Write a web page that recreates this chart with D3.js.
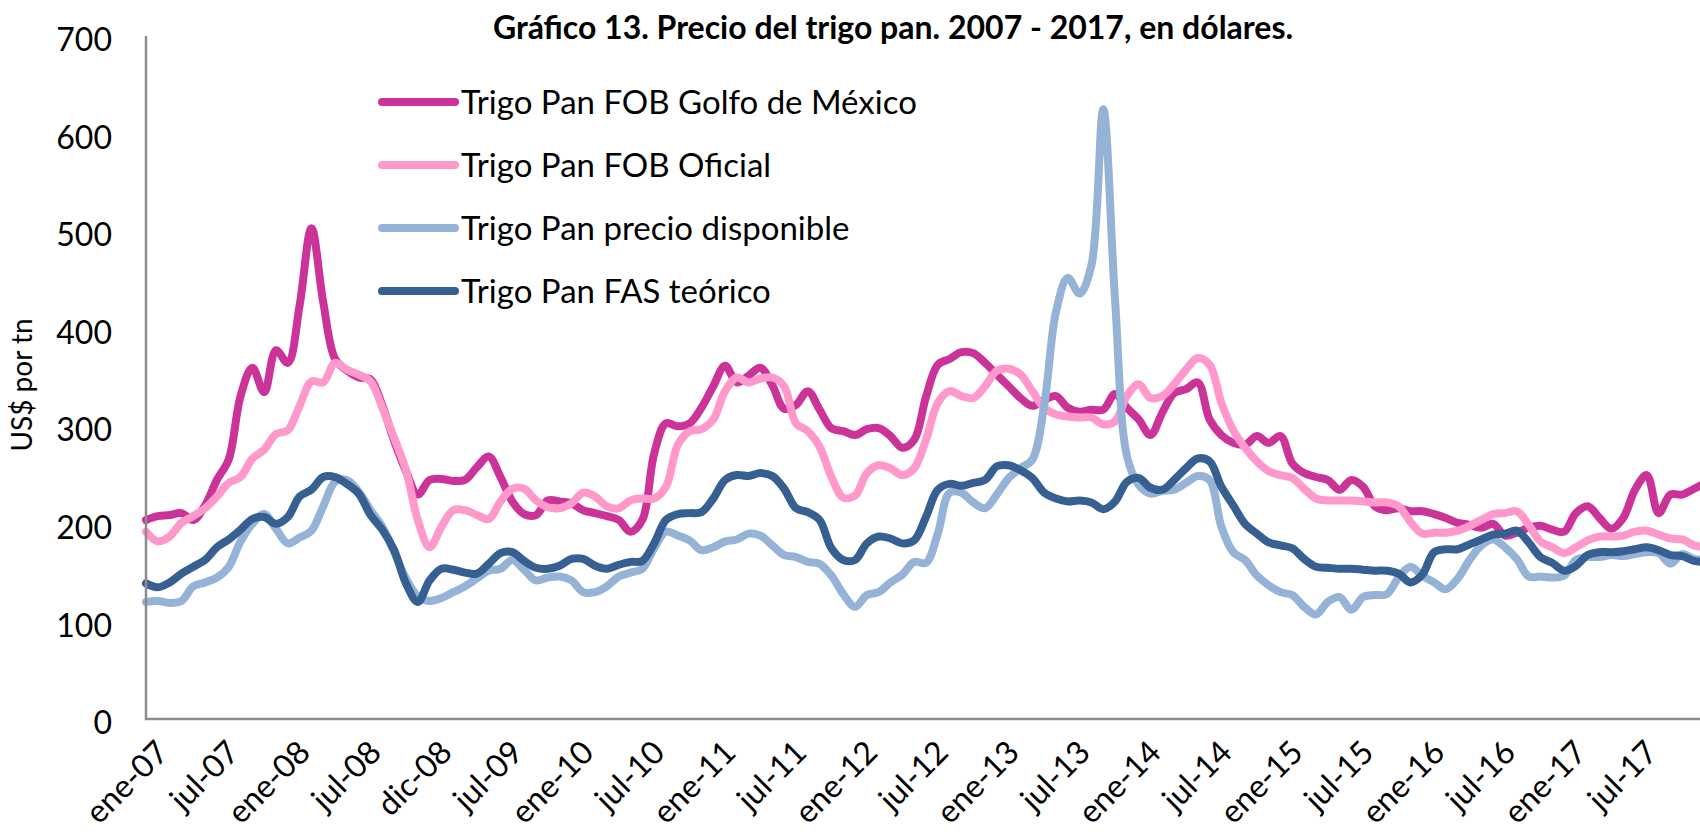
<!DOCTYPE html>
<html>
<head>
<meta charset="utf-8">
<script src="https://cdn.jsdelivr.net/npm/d3@7"></script>
<style>
body { margin: 0; background: #fff; }
svg { display: block; font-family: Lato, 'Open Sans', sans-serif; }
</style>
</head>
<body>
<script>
const W = 1700, H = 837;

const seriesNames = ['Trigo Pan FOB Golfo de México', 'Trigo Pan FOB Oficial',
                     'Trigo Pan precio disponible', 'Trigo Pan FAS teórico'];
const seriesColors = ['#cc3399', '#ff99cc', '#95b3d7', '#376092'];

// one tick label every 6 months
const tickLabels = ['ene-07', 'jul-07', 'ene-08', 'jul-08', 'dic-08', 'jul-09', 'ene-10', 'jul-10',
                    'ene-11', 'jul-11', 'ene-12', 'jul-12', 'ene-13', 'jul-13', 'ene-14', 'jul-14',
                    'ene-15', 'jul-15', 'ene-16', 'jul-16', 'ene-17', 'jul-17'];
const yTicks = [0, 100, 200, 300, 400, 500, 600, 700];

// monthly values, US$ per tn
const fobGolfo = [
  204, 208, 209, 211, 204, 219, 245, 266, 331, 360,
  335, 378, 365, 424, 503, 427, 369, 357, 350, 348,
  321, 285, 254, 230, 245, 246, 244, 245, 258, 269,
  248, 223, 210, 209, 224, 223, 221, 214, 211, 208,
  204, 192, 204, 272, 303, 300, 303, 319, 341, 362,
  345, 352, 360, 342, 318, 322, 336, 317, 298, 295,
  291, 297, 298, 290, 278, 286, 330, 363, 369, 376,
  375, 365, 353, 341, 329, 321, 327, 331, 319, 315,
  317, 317, 333, 319, 307, 291, 314, 334, 338, 345,
  307, 291, 283, 281, 290, 283, 290, 262, 252, 248,
  245, 235, 245, 238, 218, 214, 216, 213, 213, 210,
  206, 201, 199, 196, 200, 188, 191, 196, 198, 194,
  192, 211, 218, 206, 195, 206, 235, 250, 211, 230,
  230, 236, 242];
const fobOficial = [
  192, 182, 187, 201, 208, 216, 228, 242, 248, 267,
  276, 292, 296, 321, 346, 345, 365, 358, 353, 346,
  319, 288, 255, 204, 176, 197, 214, 214, 209, 205,
  223, 236, 236, 224, 217, 216, 221, 232, 228, 218,
  216, 224, 226, 226, 238, 281, 295, 297, 307, 336,
  350, 345, 349, 350, 341, 303, 295, 279, 248, 227,
  229, 252, 260, 257, 250, 257, 286, 324, 336, 331,
  329, 341, 357, 359, 353, 336, 319, 312, 310, 309,
  309, 302, 305, 331, 343, 329, 331, 343, 358, 370,
  363, 324, 296, 278, 264, 254, 250, 247, 236, 226,
  224, 224, 224, 223, 222, 222, 218, 202, 190, 191,
  191, 193, 198, 204, 210, 211, 213, 199, 182, 176,
  170, 176, 183, 187, 187, 188, 192, 193, 189, 185,
  184, 178, 176];
const precioDisponible = [
  120, 121, 119, 121, 136, 140, 145, 156, 182, 200,
  210, 195, 180, 186, 193, 218, 243, 245, 233, 214,
  197, 171, 144, 126, 121, 124, 130, 136, 144, 152,
  154, 163, 153, 142, 145, 146, 142, 130, 130, 136,
  146, 150, 154, 175, 192, 188, 183, 173, 176, 182,
  184, 190, 188, 178, 168, 166, 161, 159, 147, 128,
  115, 127, 130, 140, 148, 161, 160, 190, 232, 232,
  222, 216, 230, 247, 257, 266, 321, 417, 452, 436,
  465, 625, 430, 270, 240, 231, 234, 235, 242, 249,
  245, 197, 171, 163, 147, 137, 130, 127, 115, 107,
  120, 125, 112, 125, 127, 128, 145, 156, 147, 140,
  133, 144, 163, 178, 184, 176, 164, 146, 146, 145,
  147, 163, 166, 166, 168, 167, 169, 171, 170, 159,
  169, 164, 163];
const fasTeorico = [
  139, 135, 140, 149, 156, 163, 176, 184, 194, 205,
  207, 200, 207, 228, 235, 248, 248, 241, 231, 209,
  194, 173, 139, 120, 142, 154, 153, 150, 149, 159,
  170, 171, 162, 155, 154, 157, 164, 164, 157, 154,
  158, 161, 162, 180, 204, 210, 211, 212, 226, 245,
  250, 249, 252, 249, 236, 216, 212, 204, 175, 163,
  163, 180, 187, 185, 180, 183, 207, 235, 241, 239,
  242, 245, 259, 260, 255, 247, 232, 226, 223, 224,
  222, 215, 223, 243, 247, 237, 235, 245, 257, 267,
  264, 238, 219, 200, 190, 181, 178, 175, 164, 156,
  155, 154, 154, 153, 152, 152, 149, 140, 148, 171,
  174, 174, 179, 184, 189, 190, 193, 181, 166, 160,
  152, 157, 168, 171, 171, 172, 174, 176, 173, 168,
  167, 162, 161];

const allSeries = [fobGolfo, fobOficial, precioDisponible, fasTeorico];

const svg = d3.select('body').append('svg')
    .attr('width', W)
    .attr('height', H);

const x = d3.scaleLinear().domain([0, 131.5]).range([146, 1700]);
const y = d3.scaleLinear().domain([0, 700]).range([719, 36]);

// title
svg.append('text')
    .attr('x', 893)
    .attr('y', 39)
    .attr('text-anchor', 'middle')
    .attr('font-weight', 'bold')
    .attr('font-size', 32)
    .text('Gráfico 13. Precio del trigo pan. 2007 - 2017, en dólares.');

// y axis labels
svg.selectAll('.ylab')
    .data(yTicks)
    .enter()
    .append('text')
    .attr('class', 'ylab')
    .attr('x', 112)
    .attr('y', d => y(d) + 4)
    .attr('dy', '0.35em')
    .attr('text-anchor', 'end')
    .attr('font-size', 32)
    .text(d => d);

svg.append('text')
    .attr('transform', 'translate(22,385) rotate(-90)')
    .attr('text-anchor', 'middle')
    .attr('dy', '0.35em')
    .attr('font-size', 28)
    .text('US$ por tn');

// x labels, rotated
svg.selectAll('.xlab')
    .data(tickLabels)
    .enter()
    .append('text')
    .attr('class', 'xlab')
    .attr('transform', (d, i) => `translate(${x(i * 6) + 8},738) rotate(-45)`)
    .attr('text-anchor', 'end')
    .attr('dy', '0.72em')
    .attr('font-size', 32)
    .text(d => d);

// series
const line = d3.line()
    .x((d, i) => x(i))
    .y(d => y(d))
    .curve(d3.curveCatmullRom);

svg.selectAll('.series')
    .data(allSeries)
    .enter()
    .append('path')
    .attr('class', 'series')
    .attr('d', d => line(d))
    .attr('fill', 'none')
    .attr('stroke', (d, i) => seriesColors[i])
    .attr('stroke-width', 8)
    .attr('stroke-linejoin', 'round')
    .attr('stroke-linecap', 'round');

// axis lines
svg.append('path')
    .attr('d', `M${x(0)},${y(700)}V${y(0)}H${W}`)
    .attr('fill', 'none')
    .attr('stroke', '#8c8c8c')
    .attr('stroke-width', 2.5);

// legend
const legend = svg.selectAll('.leg')
    .data(seriesNames)
    .enter()
    .append('g')
    .attr('class', 'leg')
    .attr('transform', (d, i) => `translate(382,${102 + i * 63})`);

legend.append('line')
    .attr('x1', 0).attr('x2', 73)
    .attr('stroke', (d, i) => seriesColors[i])
    .attr('stroke-width', 8)
    .attr('stroke-linecap', 'round');

legend.append('text')
    .attr('x', 79)
    .attr('dy', '0.36em')
    .attr('font-size', 33)
    .text(d => d);
</script>
</body>
</html>
